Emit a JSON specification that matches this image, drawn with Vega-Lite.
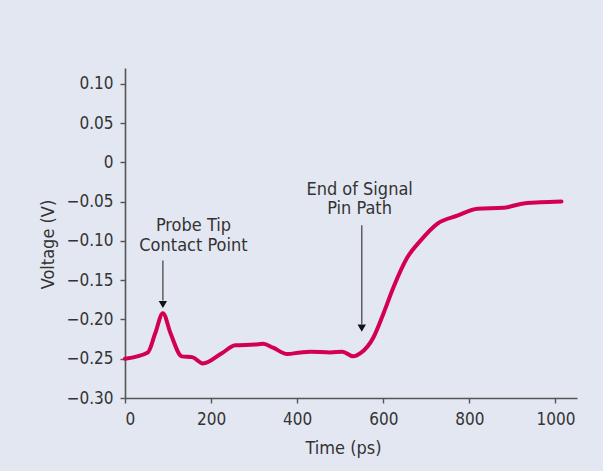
{
  "$schema": "https://vega.github.io/schema/vega-lite/v6.json",
  "autosize": {"type": "none"},
  "width": 452,
  "height": 330,
  "padding": {"left": 125, "top": 68, "right": 26, "bottom": 73},
  "background": "#e3e7f2",
  "config": {
    "view": {"stroke": null},
    "font": "DejaVu Sans Condensed, Liberation Sans",
    "axis": {
      "grid": false,
      "domainColor": "#555555",
      "domainWidth": 1.6,
      "tickColor": "#555555",
      "tickWidth": 1.4,
      "tickSize": 5,
      "labelColor": "#333333",
      "labelFontSize": 17,
      "labelFont": "DejaVu Sans Condensed, Liberation Sans",
      "titleColor": "#333333",
      "titleFontSize": 18,
      "titleFont": "DejaVu Sans Condensed, Liberation Sans",
      "titleFontWeight": "normal"
    }
  },
  "datasets": {
    "trace": [
      {"time": 0, "voltage": -0.250},
      {"time": 53, "voltage": -0.242},
      {"time": 70, "voltage": -0.218},
      {"time": 88, "voltage": -0.192},
      {"time": 106, "voltage": -0.218},
      {"time": 132, "voltage": -0.247},
      {"time": 156, "voltage": -0.248},
      {"time": 181, "voltage": -0.256},
      {"time": 225, "voltage": -0.243},
      {"time": 256, "voltage": -0.233},
      {"time": 302, "voltage": -0.232},
      {"time": 321, "voltage": -0.231},
      {"time": 344, "voltage": -0.236},
      {"time": 377, "voltage": -0.244},
      {"time": 407, "voltage": -0.242},
      {"time": 430, "voltage": -0.241},
      {"time": 477, "voltage": -0.242},
      {"time": 505, "voltage": -0.241},
      {"time": 530, "voltage": -0.247},
      {"time": 547, "voltage": -0.243},
      {"time": 577, "voltage": -0.223},
      {"time": 600, "voltage": -0.193},
      {"time": 623, "voltage": -0.160},
      {"time": 656, "voltage": -0.121},
      {"time": 686, "voltage": -0.100},
      {"time": 726, "voltage": -0.078},
      {"time": 772, "voltage": -0.068},
      {"time": 819, "voltage": -0.059},
      {"time": 879, "voltage": -0.058},
      {"time": 919, "voltage": -0.053},
      {"time": 965, "voltage": -0.051},
      {"time": 1014, "voltage": -0.050}
    ],
    "labels": [
      {"time": 159, "voltage": -0.081, "text": "Probe Tip"},
      {"time": 159, "voltage": -0.107, "text": "Contact Point"},
      {"time": 545, "voltage": -0.035, "text": "End of Signal"},
      {"time": 545, "voltage": -0.060, "text": "Pin Path"}
    ],
    "arrows": [
      {"time": 88, "top": -0.125, "bottom": -0.176, "tip": -0.181},
      {"time": 550, "top": -0.080, "bottom": -0.206, "tip": -0.211}
    ]
  },
  "encoding": {
    "x": {
      "field": "time",
      "type": "quantitative",
      "scale": {"domain": [0, 1050], "nice": false, "zero": false},
      "axis": {
        "values": [0, 200, 400, 600, 800, 1000],
        "format": "d",
        "title": "Time (ps)",
        "labelPadding": 8,
        "titleX": 218,
        "titleY": 50,
        "titleBaseline": "middle"
      }
    },
    "y": {
      "field": "voltage",
      "type": "quantitative",
      "scale": {"domain": [-0.30, 0.12], "nice": false, "zero": false},
      "axis": {
        "values": [-0.30, -0.25, -0.20, -0.15, -0.10, -0.05, 0, 0.05, 0.10],
        "format": ".2f",
        "labelExpr": "datum.value == 0 ? '0' : replace(datum.label, '-', '\u2212')",
        "title": "Voltage (V)",
        "labelPadding": 7,
        "titleX": -77,
        "titleY": 176,
        "titleAngle": -90,
        "titleAlign": "center",
        "titleBaseline": "middle"
      }
    }
  },
  "layer": [
    {
      "data": {"name": "trace"},
      "mark": {"type": "line", "color": "#d2004f", "strokeWidth": 4, "interpolate": "monotone", "strokeCap": "round", "strokeJoin": "round"}
    },
    {
      "data": {"name": "labels"},
      "mark": {"type": "text", "font": "DejaVu Sans Condensed, Liberation Sans", "fontSize": 18, "color": "#333333", "align": "center", "baseline": "middle"},
      "encoding": {"text": {"field": "text"}}
    },
    {
      "data": {"name": "arrows"},
      "mark": {"type": "rule", "color": "#555555", "strokeWidth": 1.4},
      "encoding": {
        "y": {"field": "top", "type": "quantitative"},
        "y2": {"field": "bottom"}
      }
    },
    {
      "data": {"name": "arrows"},
      "mark": {"type": "point", "shape": "triangle-down", "filled": true, "color": "#111111", "size": 70, "opacity": 1},
      "encoding": {
        "y": {"field": "tip", "type": "quantitative"}
      }
    }
  ]
}
